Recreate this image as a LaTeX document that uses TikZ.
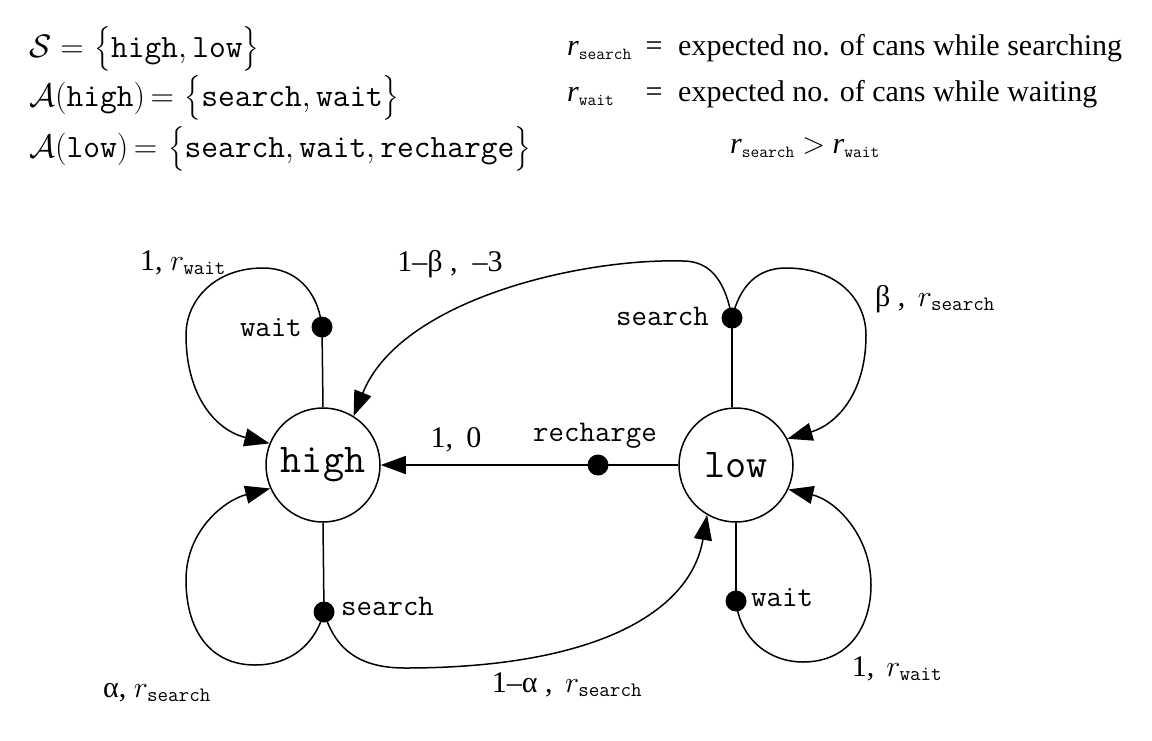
\RequirePackage{fix-cm}
\documentclass[tikz,border=0pt]{standalone}
\usepackage{exscale}
\usepackage{fontspec}
\usetikzlibrary{arrows.meta}
\newfontfamily\tms{Liberation Serif}
\newcommand\rtop[1]{$\textit{r}_{\hbox{\fontsize{17}{17}\selectfont\ttfamily #1}}$}
\newcommand\rlab[1]{$r_{\hbox{\fontsize{20.5}{20.5}\selectfont\ttfamily #1}}$}
\newcommand\setof[1]{\left\{\rule[-0.35em]{0pt}{1.2em}#1\right\}}
\begin{document}
\begin{tikzpicture}[x=1pt,y=-1pt,
  state/.style={circle,draw,line width=1.5pt,minimum size=114pt,inner sep=0pt,font=\fontsize{41}{41}\selectfont\ttfamily},
  dot/.style={circle,fill=black,inner sep=0pt,minimum size=21pt},
  conn/.style={line width=1.5pt},
  arr/.style={conn,-{Triangle[length=25pt,width=18pt]}},
  act/.style={font=\fontsize{30}{30}\selectfont\ttfamily,inner sep=0pt},
  lab/.style={font=\fontsize{30}{30}\selectfont\tms,inner sep=0pt,anchor=base},
  top/.style={font=\fontsize{30}{30}\selectfont\tms,inner sep=0pt},
  eq/.style={font=\fontsize{32.5}{40}\selectfont,inner sep=0pt,anchor=base west},
]
\useasboundingbox[fill=white] (0,0) rectangle (1152,740);

% header
\node[eq] (eq1) at (29,57) {$\mathcal{S}\;{=}\,\setof{\mathtt{high}, \mathtt{low}}$};
\node[eq] (eq2) at (29,106) {$\mathcal{A}(\mathtt{high})\,{=}\,\setof{\mathtt{search}, \mathtt{wait}}$};
\node[eq] (eq3) at (29,157) {$\mathcal{A}(\mathtt{low})\,{=}\,\setof{\mathtt{search}, \mathtt{wait}, \mathtt{recharge}}$};

\node[top,anchor=base west] (rs) at (567,55) {\rtop{search}};
\node[top,anchor=base] (eqa) at (654,55) {=};
\node[top,anchor=base west] (ds) at (678,55) {expected no. of cans while searching};
\node[top,anchor=base west] (rw) at (567,101) {\rtop{wait}};
\node[top,anchor=base] (eqb) at (654,101) {=};
\node[top,anchor=base west] (dw) at (678,101) {expected no. of cans while waiting};
\node[top,anchor=base] (ineq) at (805,153) {\rtop{search} $>$ \rtop{wait}};

% states and action dots
\node[state] (high) at (323,465) {high};
\node[state] (low) at (736,465) {low};
\node[dot] (hw) at (322,327) {};
\node[dot] (hs) at (324,612) {};
\node[dot] (ls) at (732,318) {};
\node[dot] (lr) at (598,465) {};
\node[dot] (lw) at (736,601) {};

% action labels
\node[act,anchor=base east] (thw) at (302,336) {wait};
\node[act,anchor=base west] (ths) at (341,615) {search};
\node[act,anchor=base east] (tls) at (709,325) {search};
\node[act,anchor=base] (tlr) at (595,441) {recharge};
\node[act,anchor=base west] (tlw) at (751,606) {wait};

% connectors
\draw[conn] (high.north) -- (hw.center);
\draw[conn] (high.south) -- (hs.center);
\draw[conn] (ls.center |- low.north) -- (ls.center);
\draw[conn] (low.south) -- (lw.center);
\draw[conn] (low.west) -- (lr.center);
\draw[arr] (lr.center) -- (high.east);

\draw[arr] (hw.center) .. controls (318,290) and (295,268) .. (263,268)
  .. controls (215,268) and (186,300) .. (186,335)
  .. controls (186,395) and (215,430) .. (high.158);
\draw[arr] (hs.center) .. controls (315,645) and (290,665) .. (255,665)
  .. controls (210,665) and (186,630) .. (186,580)
  .. controls (186,530) and (225,500) .. (high.204);
\draw[arr] (hs.center) .. controls (335,650) and (360,668) .. (405,668)
  .. controls (590,668) and (690,615) .. (low.240);
\draw[arr] (ls.center) .. controls (726,285) and (713,261) .. (683,261)
  .. controls (580,258) and (400,300) .. (high.58);
\draw[arr] (ls.center) .. controls (740,285) and (758,268) .. (786,268)
  .. controls (838,268) and (866,300) .. (866,335)
  .. controls (866,395) and (835,425) .. (low.27);
\draw[arr] (lw.center) .. controls (740,640) and (770,662) .. (803,662)
  .. controls (850,662) and (871,625) .. (871,585)
  .. controls (871,535) and (835,500) .. (low.-25);

% transition labels
\node[lab] (l1) at (183,270) {1, \rlab{wait}};
\node[lab] (l2) at (450,271) {1–β ,\ \ –3};
\node[lab] (l3) at (935,306) {β , \,\rlab{search}};
\node[lab] (l4) at (456,447) {1,\hspace{0.45em}0};
\node[lab] (l5) at (157,697) {α, \rlab{search}};
\node[lab] (l6) at (567,692) {1–α , \,\rlab{search}};
\node[lab] (l7) at (897,676) {1,\hspace{0.4em}\rlab{wait}};
\end{tikzpicture}
\end{document}
